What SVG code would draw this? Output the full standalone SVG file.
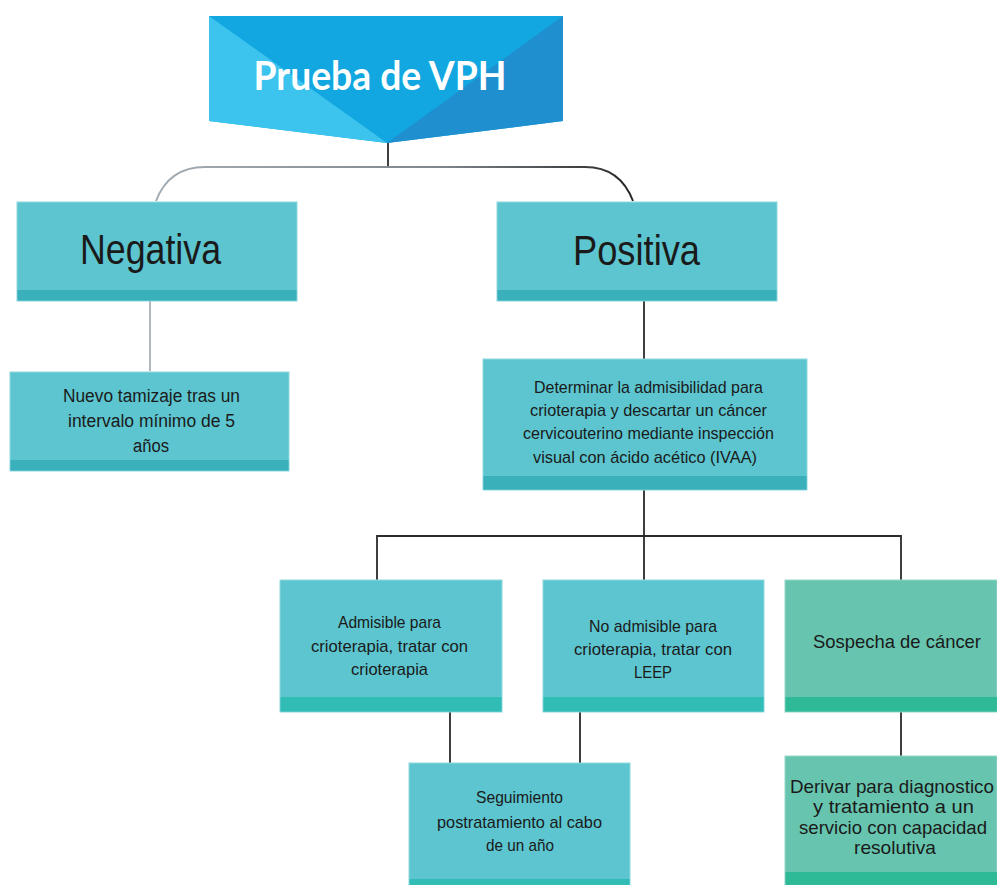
<svg xmlns="http://www.w3.org/2000/svg" width="997" height="885" viewBox="0 0 997 885">
<defs>
<linearGradient id="topLine" gradientUnits="userSpaceOnUse" x1="156" y1="0" x2="633" y2="0">
<stop offset="0" stop-color="#a5adb4"/>
<stop offset="0.6" stop-color="#7f868c"/>
<stop offset="1" stop-color="#262626"/>
</linearGradient>
<style>
.box{fill:#5cc5cf;stroke:#8fd8df;stroke-width:1}
.stripe{fill:#3ab0ba}
.stripe2{fill:#31bdb6}
.gbox{fill:#67c5af;stroke:#93d8c8;stroke-width:1}
.gstripe{fill:#2fba97}
.t{font-family:"Liberation Sans",Arial,sans-serif;fill:#1a1a1a;text-anchor:middle}
.big{font-size:42px}
.s17{font-size:17px}
.s18{font-size:18px}
.dv{font-family:"Liberation Sans",Arial,sans-serif;font-size:19px;fill:#1a1a1a;text-anchor:middle}
.ln{fill:none;stroke:#2b2b2b;stroke-width:1.8}
</style>
</defs>
<rect width="997" height="885" fill="#ffffff"/>

<g id="connectors">
<path d="M388,143 V167" class="ln"/>
<path d="M156,201 C164,180 180,167 205,167 H585 C610,167 625,180 633,201" fill="none" stroke="url(#topLine)" stroke-width="2"/>
<path d="M150,301 V371" fill="none" stroke="#a9b0b7" stroke-width="1.8"/>
<path d="M644,301 V359" class="ln"/>
<path d="M644,490 V536 M377,580 V536 H901 V580 M644,536 V580" class="ln"/>
<path d="M450,712 V763 M580,712 V763" class="ln"/>
<path d="M901,712 V756" class="ln"/>
</g>

<g id="node-prueba">
<polygon points="209,16 563,16 563,121 387,143 209,121" fill="#12a7e0"/>
<polygon points="209,16 387,143 209,121" fill="#3cc4ef"/>
<polygon points="563,16 563,121 387,143" fill="#1f8fcf"/>
<text x="380" y="90" font-family="Lato,'Liberation Sans',sans-serif" font-weight="bold" font-size="41" fill="#ffffff" text-anchor="middle" textLength="253" lengthAdjust="spacingAndGlyphs">Prueba de VPH</text>
</g>

<g id="node-negativa">
<rect x="17" y="202" width="280" height="99" class="box"/>
<rect x="17.5" y="290" width="279" height="10.5" class="stripe"/>
<text x="150.5" y="264" class="t big" textLength="141" lengthAdjust="spacingAndGlyphs">Negativa</text>
</g>

<g id="node-nuevo">
<rect x="10" y="372" width="279" height="99" class="box"/>
<rect x="10.5" y="460" width="278" height="10.5" class="stripe"/>
<text class="t s18"><tspan x="151.5" y="402" textLength="177" lengthAdjust="spacingAndGlyphs">Nuevo tamizaje tras un</tspan><tspan x="151.5" y="427" textLength="167" lengthAdjust="spacingAndGlyphs">intervalo mínimo de 5</tspan><tspan x="151" y="452" textLength="36" lengthAdjust="spacingAndGlyphs">años</tspan></text>
</g>

<g id="node-positiva">
<rect x="497" y="202" width="280" height="99" class="box"/>
<rect x="497.5" y="290" width="279" height="10.5" class="stripe"/>
<text x="636.5" y="265" class="t big" textLength="127" lengthAdjust="spacingAndGlyphs">Positiva</text>
</g>

<g id="node-ivaa">
<rect x="483" y="359" width="324" height="131" class="box"/>
<rect x="483.5" y="476" width="323" height="13.5" class="stripe"/>
<text class="t s17"><tspan x="648.5" y="393" textLength="229" lengthAdjust="spacingAndGlyphs">Determinar la admisibilidad para</tspan><tspan x="648.5" y="416" textLength="237" lengthAdjust="spacingAndGlyphs">crioterapia y descartar un cáncer</tspan><tspan x="648.5" y="439" textLength="251" lengthAdjust="spacingAndGlyphs">cervicouterino mediante inspección</tspan><tspan x="645" y="463" textLength="224" lengthAdjust="spacingAndGlyphs">visual con ácido acético (IVAA)</tspan></text>
</g>

<g id="node-admisible">
<rect x="280" y="580" width="222" height="132" class="box"/>
<rect x="280.5" y="697" width="221" height="14.5" class="stripe2"/>
<text class="t s17"><tspan x="389.5" y="628" textLength="103" lengthAdjust="spacingAndGlyphs">Admisible para</tspan><tspan x="389.5" y="652" textLength="157" lengthAdjust="spacingAndGlyphs">crioterapia, tratar con</tspan><tspan x="389.5" y="675" textLength="77" lengthAdjust="spacingAndGlyphs">crioterapia</tspan></text>
</g>

<g id="node-noadmisible">
<rect x="543" y="580" width="221" height="132" class="box"/>
<rect x="543.5" y="697" width="220" height="14.5" class="stripe2"/>
<text class="t s17"><tspan x="653" y="632" textLength="128" lengthAdjust="spacingAndGlyphs">No admisible para</tspan><tspan x="653" y="655" textLength="158" lengthAdjust="spacingAndGlyphs">crioterapia, tratar con</tspan><tspan x="653" y="678" textLength="38" lengthAdjust="spacingAndGlyphs">LEEP</tspan></text>
</g>

<g id="node-sospecha">
<rect x="785" y="580" width="212" height="132" class="gbox"/>
<rect x="785.5" y="697" width="211.5" height="14.5" class="gstripe"/>
<text x="897" y="648" class="t" font-size="19" textLength="168" lengthAdjust="spacingAndGlyphs">Sospecha de cáncer</text>
</g>

<g id="node-seguimiento">
<rect x="409" y="763" width="221" height="122" class="box"/>
<rect x="409.5" y="879" width="220" height="6" class="stripe2"/>
<text class="t s17"><tspan x="519.5" y="803" textLength="87" lengthAdjust="spacingAndGlyphs">Seguimiento</tspan><tspan x="519.5" y="828" textLength="165" lengthAdjust="spacingAndGlyphs">postratamiento al cabo</tspan><tspan x="520" y="851" textLength="68" lengthAdjust="spacingAndGlyphs">de un año</tspan></text>
</g>

<g id="node-derivar">
<rect x="785" y="756" width="212" height="129" class="gbox"/>
<rect x="785.5" y="872" width="211.5" height="13" class="gstripe"/>
<text class="dv"><tspan x="892" y="793" textLength="204" lengthAdjust="spacingAndGlyphs">Derivar para diagnostico</tspan><tspan x="893.5" y="813" textLength="161" lengthAdjust="spacingAndGlyphs">y tratamiento a un</tspan><tspan x="893" y="834" textLength="188" lengthAdjust="spacingAndGlyphs">servicio con capacidad</tspan><tspan x="895" y="854" textLength="82" lengthAdjust="spacingAndGlyphs">resolutiva</tspan></text>
</g>
</svg>
